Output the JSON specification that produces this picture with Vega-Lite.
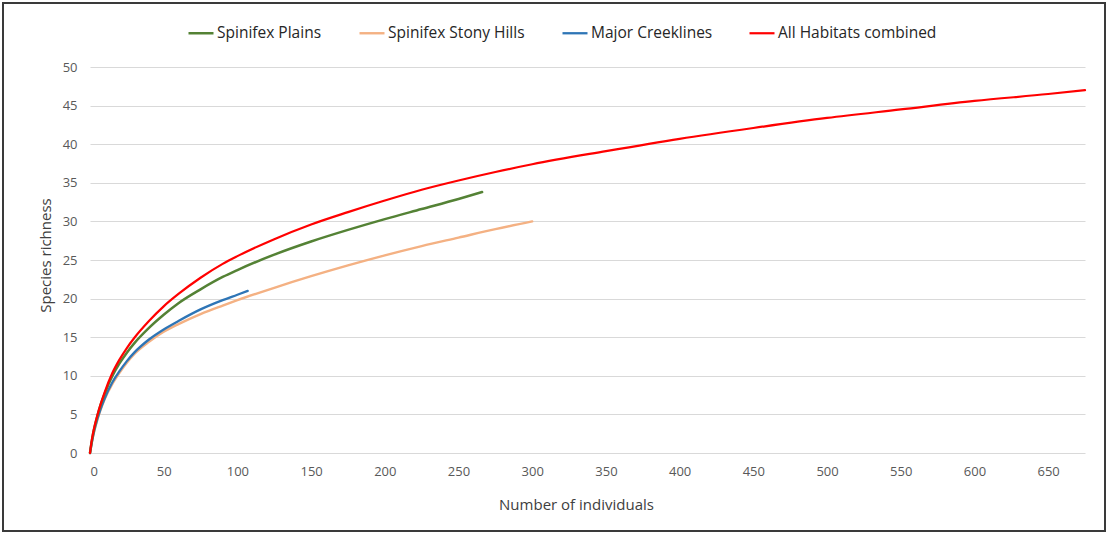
{
  "$schema": "https://vega.github.io/schema/vega-lite/v6.json",
  "autosize": {"type": "none"},
  "width": 1102,
  "height": 528,
  "padding": {"left": 3, "top": 3, "right": 7, "bottom": 2},
  "background": "white",
  "config": {
    "view": {"stroke": "#3a3a3a", "strokeWidth": 2},
    "font": "Open Sans"
  },
  "data": {
    "values": [
      {"series": "Spinifex Stony Hills", "n": 0, "s": 0},
      {"series": "Spinifex Stony Hills", "n": 1, "s": 1.1},
      {"series": "Spinifex Stony Hills", "n": 2, "s": 2.1},
      {"series": "Spinifex Stony Hills", "n": 3, "s": 2.9},
      {"series": "Spinifex Stony Hills", "n": 5, "s": 4.3},
      {"series": "Spinifex Stony Hills", "n": 7, "s": 5.5},
      {"series": "Spinifex Stony Hills", "n": 10, "s": 7.0},
      {"series": "Spinifex Stony Hills", "n": 15, "s": 8.9},
      {"series": "Spinifex Stony Hills", "n": 20, "s": 10.4},
      {"series": "Spinifex Stony Hills", "n": 25, "s": 11.7},
      {"series": "Spinifex Stony Hills", "n": 30, "s": 12.8},
      {"series": "Spinifex Stony Hills", "n": 40, "s": 14.4},
      {"series": "Spinifex Stony Hills", "n": 50, "s": 15.7},
      {"series": "Spinifex Stony Hills", "n": 60, "s": 16.7},
      {"series": "Spinifex Stony Hills", "n": 75, "s": 18.0},
      {"series": "Spinifex Stony Hills", "n": 90, "s": 19.1},
      {"series": "Spinifex Stony Hills", "n": 100, "s": 19.8},
      {"series": "Spinifex Stony Hills", "n": 125, "s": 21.4},
      {"series": "Spinifex Stony Hills", "n": 150, "s": 22.9},
      {"series": "Spinifex Stony Hills", "n": 175, "s": 24.3},
      {"series": "Spinifex Stony Hills", "n": 200, "s": 25.6},
      {"series": "Spinifex Stony Hills", "n": 225, "s": 26.8},
      {"series": "Spinifex Stony Hills", "n": 250, "s": 27.9},
      {"series": "Spinifex Stony Hills", "n": 275, "s": 29.0},
      {"series": "Spinifex Stony Hills", "n": 300, "s": 30.0},
      {"series": "Major Creeklines", "n": 0, "s": 0},
      {"series": "Major Creeklines", "n": 1, "s": 1.1},
      {"series": "Major Creeklines", "n": 2, "s": 2.1},
      {"series": "Major Creeklines", "n": 3, "s": 3.0},
      {"series": "Major Creeklines", "n": 5, "s": 4.4},
      {"series": "Major Creeklines", "n": 7, "s": 5.6},
      {"series": "Major Creeklines", "n": 10, "s": 7.1},
      {"series": "Major Creeklines", "n": 15, "s": 9.1},
      {"series": "Major Creeklines", "n": 20, "s": 10.6},
      {"series": "Major Creeklines", "n": 25, "s": 11.9},
      {"series": "Major Creeklines", "n": 30, "s": 13.0},
      {"series": "Major Creeklines", "n": 40, "s": 14.7},
      {"series": "Major Creeklines", "n": 50, "s": 16.0},
      {"series": "Major Creeklines", "n": 60, "s": 17.1},
      {"series": "Major Creeklines", "n": 75, "s": 18.6},
      {"series": "Major Creeklines", "n": 90, "s": 19.8},
      {"series": "Major Creeklines", "n": 100, "s": 20.5},
      {"series": "Major Creeklines", "n": 107, "s": 21.0},
      {"series": "Spinifex Plains", "n": 0, "s": 0},
      {"series": "Spinifex Plains", "n": 1, "s": 1.3},
      {"series": "Spinifex Plains", "n": 2, "s": 2.4},
      {"series": "Spinifex Plains", "n": 3, "s": 3.3},
      {"series": "Spinifex Plains", "n": 5, "s": 4.8},
      {"series": "Spinifex Plains", "n": 7, "s": 6.1},
      {"series": "Spinifex Plains", "n": 10, "s": 7.7},
      {"series": "Spinifex Plains", "n": 15, "s": 9.9},
      {"series": "Spinifex Plains", "n": 20, "s": 11.6},
      {"series": "Spinifex Plains", "n": 25, "s": 13.0},
      {"series": "Spinifex Plains", "n": 30, "s": 14.2},
      {"series": "Spinifex Plains", "n": 40, "s": 16.2},
      {"series": "Spinifex Plains", "n": 50, "s": 17.9},
      {"series": "Spinifex Plains", "n": 60, "s": 19.4},
      {"series": "Spinifex Plains", "n": 75, "s": 21.2},
      {"series": "Spinifex Plains", "n": 90, "s": 22.8},
      {"series": "Spinifex Plains", "n": 100, "s": 23.7},
      {"series": "Spinifex Plains", "n": 125, "s": 25.7},
      {"series": "Spinifex Plains", "n": 150, "s": 27.4},
      {"series": "Spinifex Plains", "n": 175, "s": 28.9},
      {"series": "Spinifex Plains", "n": 200, "s": 30.3},
      {"series": "Spinifex Plains", "n": 225, "s": 31.6},
      {"series": "Spinifex Plains", "n": 250, "s": 32.9},
      {"series": "Spinifex Plains", "n": 266, "s": 33.8},
      {"series": "All Habitats combined", "n": 0, "s": 0},
      {"series": "All Habitats combined", "n": 1, "s": 1.4},
      {"series": "All Habitats combined", "n": 2, "s": 2.5},
      {"series": "All Habitats combined", "n": 3, "s": 3.4},
      {"series": "All Habitats combined", "n": 5, "s": 4.9},
      {"series": "All Habitats combined", "n": 7, "s": 6.2},
      {"series": "All Habitats combined", "n": 10, "s": 7.9},
      {"series": "All Habitats combined", "n": 15, "s": 10.3},
      {"series": "All Habitats combined", "n": 20, "s": 12.1},
      {"series": "All Habitats combined", "n": 25, "s": 13.6},
      {"series": "All Habitats combined", "n": 30, "s": 14.9},
      {"series": "All Habitats combined", "n": 40, "s": 17.1},
      {"series": "All Habitats combined", "n": 50, "s": 19.0},
      {"series": "All Habitats combined", "n": 60, "s": 20.6},
      {"series": "All Habitats combined", "n": 75, "s": 22.7},
      {"series": "All Habitats combined", "n": 90, "s": 24.5},
      {"series": "All Habitats combined", "n": 100, "s": 25.5},
      {"series": "All Habitats combined", "n": 125, "s": 27.7},
      {"series": "All Habitats combined", "n": 150, "s": 29.6},
      {"series": "All Habitats combined", "n": 175, "s": 31.2},
      {"series": "All Habitats combined", "n": 200, "s": 32.7},
      {"series": "All Habitats combined", "n": 225, "s": 34.1},
      {"series": "All Habitats combined", "n": 250, "s": 35.3},
      {"series": "All Habitats combined", "n": 275, "s": 36.4},
      {"series": "All Habitats combined", "n": 300, "s": 37.4},
      {"series": "All Habitats combined", "n": 350, "s": 39.1},
      {"series": "All Habitats combined", "n": 400, "s": 40.7},
      {"series": "All Habitats combined", "n": 450, "s": 42.1},
      {"series": "All Habitats combined", "n": 500, "s": 43.4},
      {"series": "All Habitats combined", "n": 550, "s": 44.5},
      {"series": "All Habitats combined", "n": 600, "s": 45.6},
      {"series": "All Habitats combined", "n": 650, "s": 46.5},
      {"series": "All Habitats combined", "n": 675, "s": 47.0}
    ]
  },
  "mark": {"type": "line", "interpolate": "monotone", "strokeCap": "round"},
  "encoding": {
    "x": {
      "field": "n",
      "type": "quantitative",
      "scale": {"domain": [0, 675], "range": [87, 1082], "nice": false, "zero": true},
      "axis": {
        "title": "Number of individuals",
        "values": [0, 50, 100, 150, 200, 250, 300, 350, 400, 450, 500, 550, 600, 650],
        "offset": -78,
        "grid": false,
        "domain": false,
        "ticks": false,
        "labelPadding": 12,
        "labelFontSize": 13,
        "labelColor": "#595959",
        "titleFontSize": 15,
        "titleFontWeight": "normal",
        "titleColor": "#404040",
        "titlePadding": 19,
        "titleX": 573
      }
    },
    "y": {
      "field": "s",
      "type": "quantitative",
      "scale": {"domain": [0, 50], "range": [450, 64], "nice": false},
      "axis": {
        "title": "Species richness",
        "values": [0, 5, 10, 15, 20, 25, 30, 35, 40, 45, 50],
        "offset": -87,
        "grid": true,
        "gridColor": "#d9d9d9",
        "gridWidth": 1,
        "domain": false,
        "ticks": false,
        "labelPadding": 13,
        "labelFontSize": 13,
        "labelColor": "#595959",
        "titleFontSize": 15,
        "titleFontWeight": "normal",
        "titleColor": "#404040",
        "titlePadding": 9,
        "titleY": 252
      }
    },
    "color": {
      "field": "series",
      "type": "nominal",
      "scale": {
        "domain": ["Spinifex Plains", "Spinifex Stony Hills", "Major Creeklines", "All Habitats combined"],
        "range": ["#548235", "#f4b183", "#2e75b6", "#ff0000"]
      },
      "legend": {
        "title": null,
        "orient": "none",
        "direction": "horizontal",
        "legendX": 184,
        "legendY": 16,
        "symbolType": "stroke",
        "symbolSize": 625,
        "symbolStrokeWidth": 3,
        "labelFontSize": 15.5,
        "labelColor": "#262626",
        "labelOffset": 2,
        "columnPadding": 32
      }
    },
    "strokeWidth": {
      "field": "series",
      "type": "nominal",
      "scale": {
        "domain": ["Spinifex Plains", "Spinifex Stony Hills", "Major Creeklines", "All Habitats combined"],
        "range": [2.5, 2.2, 2.5, 3]
      },
      "legend": null
    }
  }
}
